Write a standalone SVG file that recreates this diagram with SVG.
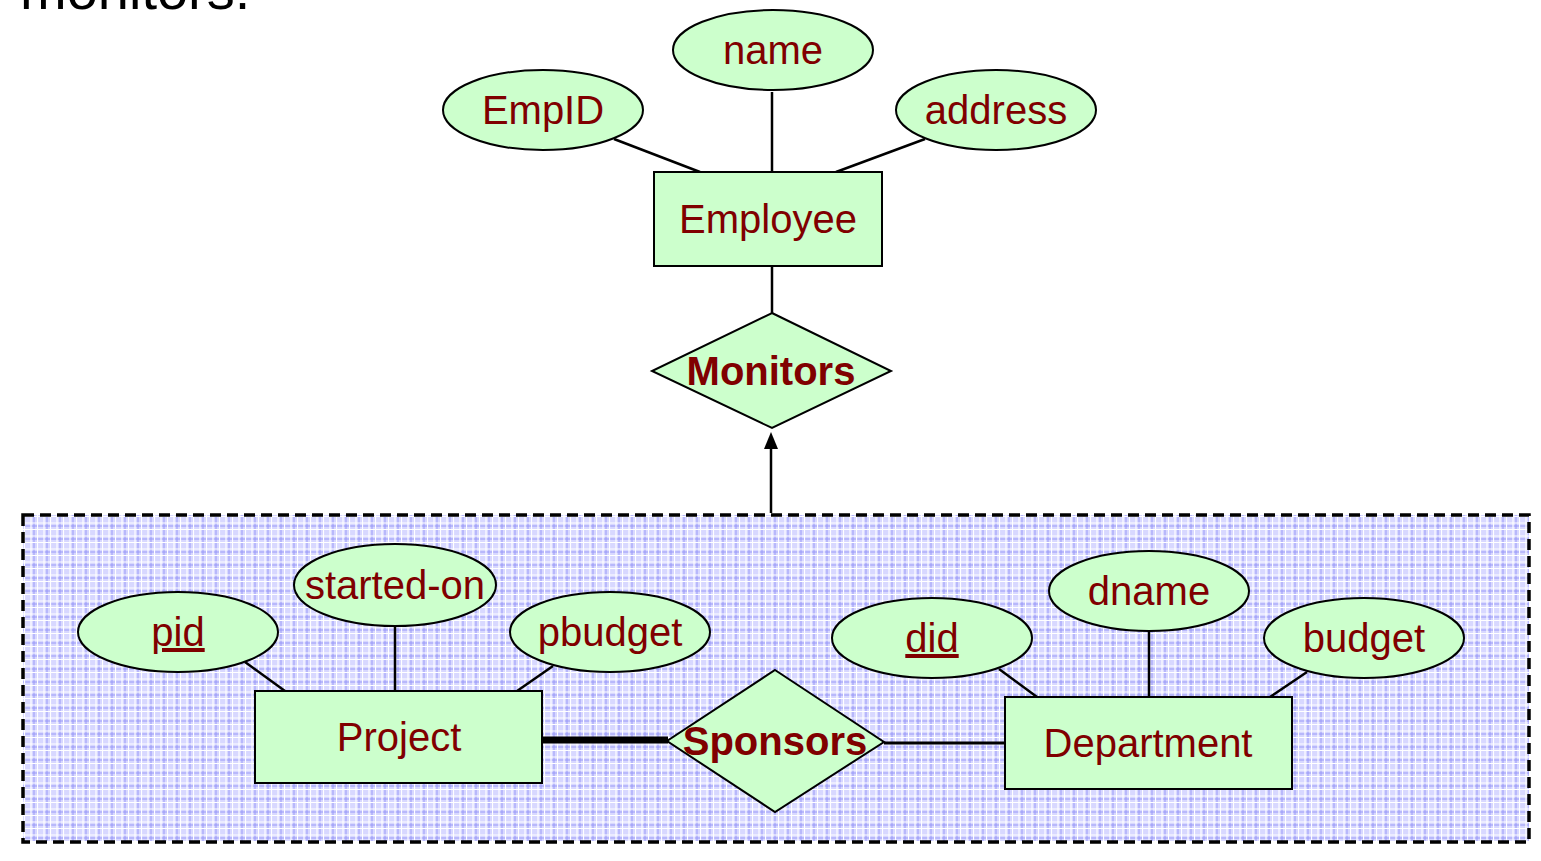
<svg xmlns="http://www.w3.org/2000/svg" width="1541" height="861" viewBox="0 0 1541 861">
<style>
.attr{fill:#CCFFCC;stroke:#000;stroke-width:2}
.ent{fill:#CCFFCC;stroke:#000;stroke-width:2}
.rel{fill:#CCFFCC;stroke:#000;stroke-width:2}
.t{font-family:"Liberation Sans",Arial,sans-serif;font-size:40px;fill:#800000;text-anchor:middle}
.b{font-weight:bold}
.ln{stroke:#000;stroke-width:2.5;fill:none}
</style>
<defs>
<pattern id="grid" width="13" height="13" patternUnits="userSpaceOnUse" x="24" y="516">
<rect width="13" height="13" fill="#d8d8ff"/>
<path d="M10 0V13M0 10H13" stroke="#6060f0" stroke-width="1" opacity="0.55"/>
<path d="M0.5 0V13M7 0V13M0 0.5H13M0 7H13" stroke="#fff" stroke-width="1.2"/>
</pattern>
</defs>
<rect width="1541" height="861" fill="#fff"/>
<text x="20" y="9" style="font-family:'Liberation Sans',Arial,sans-serif;font-size:56px;fill:#000">monitors.</text>

<g id="aggregate">
<rect x="23" y="515" width="1506" height="327" fill="url(#grid)" stroke="#000" stroke-width="3.5" stroke-dasharray="11 6"/>
</g>

<g id="connectors">
<line class="ln" x1="614" y1="139" x2="700" y2="172"/>
<line class="ln" x1="772" y1="92" x2="772" y2="172"/>
<line class="ln" x1="925" y1="139" x2="836" y2="172"/>
<line class="ln" x1="772" y1="266" x2="772" y2="313"/>
<line stroke="#000" stroke-width="2.5" x1="771" y1="513" x2="771" y2="448"/>
<path d="M771 432L764 449H778z" fill="#000"/>
<line class="ln" x1="245" y1="662" x2="285" y2="691"/>
<line class="ln" x1="395" y1="626" x2="395" y2="691"/>
<line class="ln" x1="553" y1="666" x2="517" y2="691"/>
<line class="ln" x1="999" y1="669" x2="1037" y2="697"/>
<line class="ln" x1="1149" y1="631" x2="1149" y2="697"/>
<line class="ln" x1="1307" y1="672" x2="1270" y2="697"/>
<line stroke="#000" stroke-width="7" x1="542" y1="740" x2="668" y2="740"/>
<line stroke="#000" stroke-width="3" x1="884" y1="743" x2="1005" y2="743"/>
</g>

<g id="EmpID"><ellipse class="attr" cx="543" cy="110" rx="100" ry="40"/><text class="t" x="543" y="124">EmpID</text></g>
<g id="name"><ellipse class="attr" cx="773" cy="50" rx="100" ry="40"/><text class="t" x="773" y="64">name</text></g>
<g id="address"><ellipse class="attr" cx="996" cy="110" rx="100" ry="40"/><text class="t" x="996" y="124">address</text></g>
<g id="Employee"><rect class="ent" x="654" y="172" width="228" height="94"/><text class="t" x="768" y="233">Employee</text></g>
<g id="Monitors"><polygon class="rel" points="772,313 891,371 772,428 652,371"/><text class="t b" x="771" y="385">Monitors</text></g>

<g id="pid"><ellipse class="attr" cx="178" cy="632" rx="100" ry="40"/><text class="t" x="178" y="646" text-decoration="underline">pid</text></g>
<g id="started-on"><ellipse class="attr" cx="395" cy="585" rx="101" ry="41"/><text class="t" x="395" y="599">started-on</text></g>
<g id="pbudget"><ellipse class="attr" cx="610" cy="632" rx="100" ry="40"/><text class="t" x="610" y="646">pbudget</text></g>
<g id="did"><ellipse class="attr" cx="932" cy="638" rx="100" ry="40"/><text class="t" x="932" y="652" text-decoration="underline">did</text></g>
<g id="dname"><ellipse class="attr" cx="1149" cy="591" rx="100" ry="40"/><text class="t" x="1149" y="605">dname</text></g>
<g id="budget"><ellipse class="attr" cx="1364" cy="638" rx="100" ry="40"/><text class="t" x="1364" y="652">budget</text></g>
<g id="Project"><rect class="ent" x="255" y="691" width="287" height="92"/><text class="t" x="399" y="751">Project</text></g>
<g id="Department"><rect class="ent" x="1005" y="697" width="287" height="92"/><text class="t" x="1148" y="757">Department</text></g>
<g id="Sponsors"><polygon class="rel" points="775,670 884,742 775,812 667,741"/><text class="t b" x="775" y="755">Sponsors</text></g>
</svg>
